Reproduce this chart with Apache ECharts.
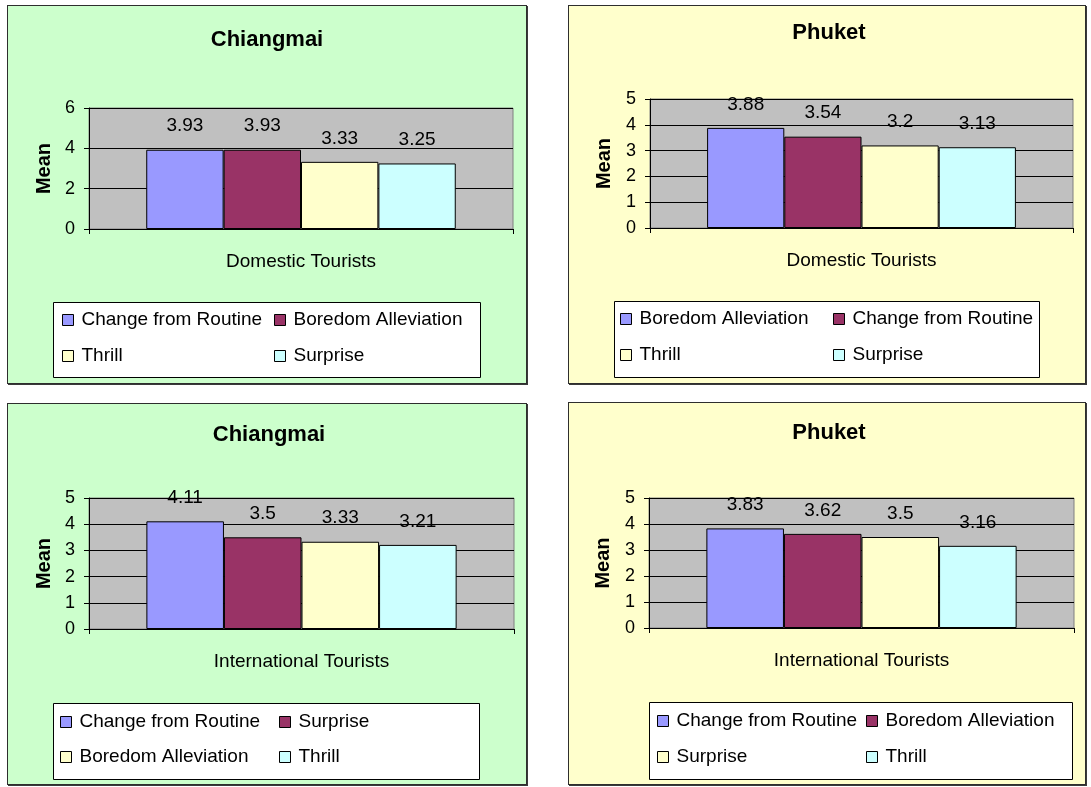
<!DOCTYPE html>
<html>
<head>
<meta charset="utf-8">
<script src="https://cdn.jsdelivr.net/npm/echarts@6/dist/echarts.min.js"></script>
<style>
  html, body { margin: 0; padding: 0; background: #ffffff; }
  body { width: 1091px; height: 787px; position: relative; overflow: hidden; }
  .panel { position: absolute; }
  .frame { position: absolute; box-sizing: border-box; border: 1px solid #2e2e2e;
           box-shadow: 1px 1px 0 #3a3a3a; pointer-events: none; }
</style>
</head>
<body>
<div id="p1" class="panel"></div><div id="f1" class="frame"></div>
<div id="p2" class="panel"></div><div id="f2" class="frame"></div>
<div id="p3" class="panel"></div><div id="f3" class="frame"></div>
<div id="p4" class="panel"></div><div id="f4" class="frame"></div>
<script>
// ---- data ----
const barColors = ['#9999FF', '#993366', '#FFFFCC', '#CCFFFF'];

const chiangmaiDomesticNames = ['Change from Routine', 'Boredom Alleviation', 'Thrill', 'Surprise'];
const chiangmaiDomesticMeans = [3.93, 3.93, 3.33, 3.25];

const phuketDomesticNames = ['Boredom Alleviation', 'Change from Routine', 'Thrill', 'Surprise'];
const phuketDomesticMeans = [3.88, 3.54, 3.2, 3.13];

const chiangmaiInternationalNames = ['Change from Routine', 'Surprise', 'Boredom Alleviation', 'Thrill'];
const chiangmaiInternationalMeans = [4.11, 3.5, 3.33, 3.21];

const phuketInternationalNames = ['Change from Routine', 'Boredom Alleviation', 'Surprise', 'Thrill'];
const phuketInternationalMeans = [3.83, 3.62, 3.5, 3.16];

const domesticCategory = ['Domestic Tourists'];
const internationalCategory = ['International Tourists'];

// ---- layout of the four panels (page pixels) ----
const FONT = '"Liberation Sans", Arial, Helvetica, sans-serif';

const panels = [
  { id: 'p1', frame: 'f1', box: [7, 5, 520, 379], bg: '#CCFFCC', title: 'Chiangmai', titleXY: [260, 36],
    names: chiangmaiDomesticNames, values: chiangmaiDomesticMeans, category: domesticCategory,
    yMax: 6, yStep: 2, plot: [82, 103, 424, 121], labelMargin: 23, meanGap: 35,
    legendBox: [46, 297, 427, 75], cols: [55, 267], rows: [315, 351] },
  { id: 'p2', frame: 'f2', box: [568, 5, 518, 379], bg: '#FFFFCC', title: 'Phuket', titleXY: [261, 29],
    names: phuketDomesticNames, values: phuketDomesticMeans, category: domesticCategory,
    yMax: 5, yStep: 1, plot: [82, 94, 423, 129], labelMargin: 23, meanGap: 36,
    legendBox: [46, 296, 425, 76], cols: [52, 265], rows: [314, 350] },
  { id: 'p3', frame: 'f3', box: [7, 403, 520, 382], bg: '#CCFFCC', title: 'Chiangmai', titleXY: [262, 33],
    names: chiangmaiInternationalNames, values: chiangmaiInternationalMeans, category: internationalCategory,
    yMax: 5, yStep: 1, plot: [82, 95, 425, 131], labelMargin: 23, meanGap: 35,
    legendBox: [46, 300, 426, 76], cols: [53, 272], rows: [319, 354] },
  { id: 'p4', frame: 'f4', box: [568, 402, 518, 383], bg: '#FFFFCC', title: 'Phuket', titleXY: [261, 32],
    names: phuketInternationalNames, values: phuketInternationalMeans, category: internationalCategory,
    yMax: 5, yStep: 1, plot: [81, 96, 425, 130], labelMargin: 23, meanGap: 36,
    legendBox: [81, 300, 423, 77], cols: [89, 298], rows: [319, 355] }
];

function legendFor(names, left, rows) {
  return {
    data: names,
    orient: 'vertical',
    left: left,
    top: rows[0] - 10,
    itemGap: rows[1] - rows[0] - 20,
    itemWidth: 11,
    itemHeight: 11,
    padding: 0,
    icon: 'rect',
    selectedMode: false,
    itemStyle: { borderColor: '#000', borderWidth: 1 },
    textStyle: { fontFamily: FONT, fontSize: 19, lineHeight: 20, color: '#000', padding: [0, 0, 0, 3] },
    z: 5
  };
}

panels.forEach(function (p) {
  const el = document.getElementById(p.id);
  const fr = document.getElementById(p.frame);
  [el, fr].forEach(function (d) {
    d.style.left = p.box[0] + 'px';
    d.style.top = p.box[1] + 'px';
    d.style.width = p.box[2] + 'px';
    d.style.height = p.box[3] + 'px';
  });
  el.style.background = p.bg;

  const chart = echarts.init(el, null, { renderer: 'canvas' });
  const lb = p.legendBox;

  const series = p.names.map(function (name, i) {
    return {
      name: name,
      type: 'bar',
      data: [p.values[i]],
      barGap: '0%',
      barCategoryGap: '27%',
      itemStyle: { color: barColors[i], borderColor: '#000', borderWidth: 1 },
      label: {
        show: true,
        position: 'top',
        distance: 14,
        fontFamily: FONT,
        fontSize: 19,
        color: '#000'
      },
      emphasis: { disabled: true },
      animation: false
    };
  });

  chart.setOption({
    animation: false,
    backgroundColor: 'transparent',
    title: {
      text: p.title,
      left: p.titleXY[0],
      top: p.titleXY[1] - 12,
      textAlign: 'center',
      padding: 0,
      textStyle: { fontFamily: FONT, fontSize: 22, fontWeight: 'bold', color: '#000' }
    },
    grid: {
      left: p.plot[0], top: p.plot[1], width: p.plot[2], height: p.plot[3],
      show: true, backgroundColor: '#C0C0C0', borderColor: '#808080', borderWidth: 1,
      containLabel: false
    },
    xAxis: {
      type: 'category',
      data: p.category,
      axisLine: { show: true, lineStyle: { color: '#000', width: 1 } },
      axisTick: { show: true, length: 5, lineStyle: { color: '#000' } },
      axisLabel: { show: true, margin: p.labelMargin, fontFamily: FONT, fontSize: 19, color: '#000' },
      splitLine: { show: false }
    },
    yAxis: {
      type: 'value',
      min: 0,
      max: p.yMax,
      interval: p.yStep,
      name: 'Mean',
      nameLocation: 'middle',
      nameRotate: 90,
      nameGap: p.meanGap,
      nameTextStyle: { fontFamily: FONT, fontSize: 20, fontWeight: 'bold', color: '#000' },
      axisLine: { show: true, lineStyle: { color: '#000', width: 1 } },
      axisTick: { show: true, length: 5, lineStyle: { color: '#000' } },
      axisLabel: { margin: 14, fontFamily: FONT, fontSize: 18, color: '#000' },
      splitLine: { show: true, lineStyle: { color: '#000', width: 1 } }
    },
    legend: [
      legendFor([p.names[0], p.names[2]], p.cols[0], p.rows),
      legendFor([p.names[1], p.names[3]], p.cols[1], p.rows)
    ],
    graphic: [{
      type: 'rect',
      z: 1,
      shape: { x: lb[0] + 0.5, y: lb[1] + 0.5, width: lb[2], height: lb[3] },
      style: { fill: '#ffffff', stroke: '#000000', lineWidth: 1 }
    }],
    series: series
  });
});
</script>
</body>
</html>
